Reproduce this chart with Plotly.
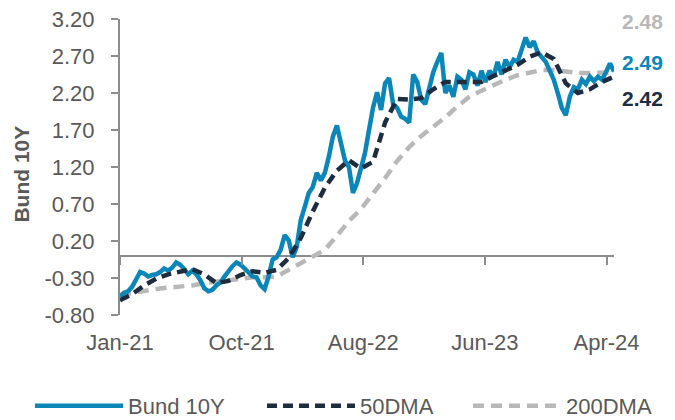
import numpy as np
import plotly.graph_objects as go

# ---- data ----
tick_labels = ["Jan-21", "Oct-21", "Aug-22", "Jun-23", "Apr-24"]
tick_days = [0, 212, 424, 636, 848]          # trading-day index of each axis label

bund_step = 7    # trading days between Bund samples
ma_step = 21     # trading days between moving-average samples

bund_10y = [
    -0.55, -0.50, -0.48, -0.42, -0.32, -0.22, -0.24, -0.28, -0.26, -0.25,
    -0.22, -0.17, -0.20, -0.16, -0.09, -0.12, -0.18, -0.25, -0.20, -0.25,
    -0.33, -0.44, -0.48, -0.46, -0.40, -0.36, -0.28, -0.20, -0.14, -0.09,
    -0.12, -0.17, -0.22, -0.28, -0.29, -0.40, -0.45, -0.28, -0.05, -0.02,
    0.08, 0.28, 0.21, -0.02, 0.12, 0.48, 0.66, 0.85, 0.93, 1.12,
    1.02, 1.12, 1.34, 1.61, 1.76, 1.52, 1.29, 1.20, 0.85, 0.98,
    1.16, 1.39, 1.70, 2.00, 2.21, 1.97, 2.33, 2.40, 2.05, 2.00,
    1.88, 1.85, 1.80, 2.45, 2.35, 2.11, 2.05, 2.30, 2.48, 2.62,
    2.74, 2.20, 2.30, 2.15, 2.42, 2.38, 2.25, 2.48, 2.45, 2.30,
    2.50, 2.35, 2.50, 2.42, 2.62, 2.45, 2.65, 2.55, 2.65, 2.62,
    2.80, 2.95, 2.82, 2.90, 2.75, 2.68, 2.62, 2.50, 2.38, 2.20,
    2.00, 1.90, 2.15, 2.28, 2.25, 2.38, 2.32, 2.42, 2.36, 2.42,
    2.38, 2.48, 2.60, 2.49,
]

dma_50 = [
    -0.60, -0.52, -0.40, -0.31, -0.25, -0.22, -0.18, -0.25, -0.37, -0.34,
    -0.26, -0.21, -0.23, -0.19, -0.03, 0.24, 0.60, 0.92, 1.15, 1.29,
    1.18, 1.27, 1.80, 2.12, 2.11, 2.13, 2.25, 2.35, 2.35, 2.35,
    2.35, 2.43, 2.50, 2.58, 2.69, 2.75, 2.66, 2.33, 2.20, 2.25,
    2.35, 2.42,
]

dma_200 = [
    -0.53, -0.50, -0.47, -0.45, -0.43, -0.42, -0.40, -0.37, -0.35, -0.33,
    -0.30, -0.29, -0.29, -0.28, -0.19, -0.10, -0.02, 0.08, 0.27, 0.47,
    0.63, 0.83, 1.05, 1.28, 1.47, 1.62, 1.75, 1.87, 2.02, 2.15,
    2.23, 2.31, 2.38, 2.44, 2.48, 2.51, 2.51, 2.49, 2.47, 2.47,
    2.48, 2.48,
]

y_ticks = [-0.80, -0.30, 0.20, 0.70, 1.20, 1.70, 2.20, 2.70, 3.20]
y_tick_labels = ["-0.80", "-0.30", "0.20", "0.70", "1.20", "1.70", "2.20", "2.70", "3.20"]
y_title = "Bund 10Y"

# ---- styling ----
FONT = "Liberation Sans, Arial, sans-serif"
TXT = "#595959"
AX = "#8c8c8c"
C_BUND = "#0b86b8"
C_50 = "#1d2d3f"
C_200 = "#b8b8b8"

W, H = 667, 412   # page body keeps an 8px margin

x_bund = np.arange(len(bund_10y)) * bund_step
x_ma = np.arange(len(dma_50)) * ma_step
x_end = max(x_bund[-1], x_ma[-1])

fig = go.Figure()
fig.add_trace(go.Scatter(x=x_ma, y=dma_200, mode="lines", name="200DMA",
                         legend="legend3",
                         line=dict(color=C_200, width=4.5, dash="11px,7px")))
fig.add_trace(go.Scatter(x=x_bund, y=bund_10y, mode="lines", name="Bund 10Y",
                         legend="legend",
                         line=dict(color=C_BUND, width=4.5)))
fig.add_trace(go.Scatter(x=x_ma, y=dma_50, mode="lines", name="50DMA",
                         xaxis="x2", legend="legend2",
                         line=dict(color=C_50, width=4.5, dash="10px,6px")))

# end-value labels
end_labels = [
    (dma_200[-1], C_200, 3.16),
    (bund_10y[-1], C_BUND, 2.61),
    (dma_50[-1], C_50, 2.12),
]
for val, col, ypos in end_labels:
    fig.add_annotation(x=1.012, xref="paper", xanchor="left",
                       y=ypos, yref="y", yanchor="middle",
                       text=f"<b>{val:.2f}</b>", showarrow=False,
                       font=dict(family=FONT, size=21, color=col))

# y-axis title
fig.add_annotation(x=-0.2, xref="paper", xanchor="center",
                   y=0.475, yref="paper", yanchor="middle",
                   text=f"<b>{y_title}</b>", textangle=-90, showarrow=False,
                   font=dict(family=FONT, size=21, color=TXT))


def leg(xpx):
    return dict(orientation="h", x=xpx / W, xref="container", xanchor="left",
                y=-0.307, yanchor="middle", itemwidth=88,
                bgcolor="rgba(0,0,0,0)",
                font=dict(family=FONT, size=22, color=TXT))


fig.update_layout(
    width=W, height=H,
    margin=dict(l=112, r=61, t=11, b=105, autoexpand=False),
    paper_bgcolor="white", plot_bgcolor="white",
    font=dict(family=FONT, size=22, color=TXT),
    showlegend=True,
    legend=leg(22),
    legend2=leg(254),
    legend3=leg(460),
    xaxis=dict(range=[0, x_end], tickvals=tick_days, ticktext=tick_labels,
               showline=False, showgrid=False, zeroline=False, automargin=False,
               ticks="", ticklabelstandoff=12, tickangle=0,
               ticklabeloverflow="allow",
               tickfont=dict(family=FONT, size=22, color=TXT)),
    xaxis2=dict(range=[0, x_end], overlaying="x", anchor="free", position=0.2,
                side="bottom", tickvals=tick_days, showticklabels=False,
                ticks="outside", ticklen=8, tickwidth=2, tickcolor=AX,
                showline=False, showgrid=False, zeroline=False, automargin=False),
    yaxis=dict(range=[-0.8, 3.2], tickvals=y_ticks, ticktext=y_tick_labels,
               showline=True, linecolor=AX, linewidth=2, automargin=False,
               ticks="outside", ticklen=7, tickwidth=2, tickcolor=AX,
               showgrid=False, zeroline=True, zerolinecolor=AX, zerolinewidth=2,
               ticklabelstandoff=12, ticklabeloverflow="allow",
               tickfont=dict(family=FONT, size=22, color=TXT)),
)

fig.write_html("out.html")
